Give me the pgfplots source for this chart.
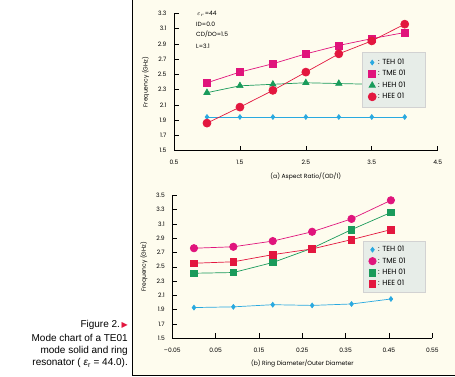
\documentclass[border=0pt]{standalone}
\usepackage{pgfplots}
\pgfplotsset{compat=1.18}
\usepackage{fontspec}
\setmainfont{Poppins}
\newfontfamily\capfont{Liberation Sans}
\newfontfamily\symfont{DejaVu Sans}
\definecolor{cream}{HTML}{FEFCEE}
\definecolor{cyanM}{HTML}{29A9E0}
\definecolor{magM}{HTML}{E0147C}
\definecolor{greenM}{HTML}{1A9B5B}
\definecolor{redM}{HTML}{E3173F}
\definecolor{legfill}{HTML}{E7EDE8}
\newcommand{\pad}{\hbox to 12pt{}}
\pgfplotsset{
  mystyle/.style={
    scale only axis, clip=false,
    axis x line*=bottom, axis y line*=left,
    tick align=inside, major tick length=5pt,
    tick style={black, line width=0.6pt},
    axis line style={black, line width=0.6pt},
    /pgf/number format/assume math mode=true,
    ticklabel style={font=\fontsize{6}{7}\selectfont},
    label style={font=\fontsize{6}{7}\selectfont},
    ylabel={Frequency (GHz)},
    yticklabel style={xshift=-4pt, /pgf/number format/.cd, fixed, fixed zerofill, precision=1},
    xticklabel style={yshift=-6pt},
    xlabel style={yshift=-1pt},
    ylabel style={yshift=2pt},
    legend cell align=left,
    legend style={fill=legfill, draw=gray!35, font=\fontsize{7.4}{8}\selectfont,
      anchor=north west, inner xsep=6pt, inner ysep=5pt, row sep=0.5pt},
    legend image code/.code={\draw[#1] plot[only marks] coordinates {(0.12cm,0cm)};},
  },
  lw/.style={line width=0.7pt},
}
\begin{document}
\begin{tikzpicture}
\useasboundingbox (0pt,0pt) rectangle (455pt,376pt);
\fill[white] (0pt,0pt) rectangle (455pt,376pt);
\fill[cream] (132pt,0pt) rectangle (455pt,376pt);
\draw[black, line width=0.8pt] (132pt,376pt) -- (132pt,0.5pt) -- (455pt,0.5pt);

% caption
\node[anchor=east, font=\capfont\fontsize{10}{12}\selectfont, inner sep=0pt] at (128pt,51pt) {Figure 2.\,{\symfont\color{redM}\fontsize{8}{9}\selectfont ▶}};
\node[anchor=east, font=\capfont\fontsize{10}{12}\selectfont, inner sep=0pt] at (128pt,38pt) {Mode chart of a TE01};
\node[anchor=east, font=\capfont\fontsize{10}{12}\selectfont, inner sep=0pt] at (128pt,25pt) {mode solid and ring};
\node[anchor=east, font=\capfont\fontsize{10}{12}\selectfont, inner sep=0pt] at (128pt,13pt) {resonator ( {\itshape ε}\textsubscript{r} = 44.0).};

% annotation
\node[anchor=west, font=\fontsize{6}{7}\selectfont, inner sep=0pt] at (197pt,362pt) {$\varepsilon_r$=44};
\node[anchor=west, font=\fontsize{6}{7}\selectfont, inner sep=0pt] at (196pt,351.5pt) {ID=0.0};
\node[anchor=west, font=\fontsize{6}{7}\selectfont, inner sep=0pt] at (196pt,341.5pt) {CD/DO=1.5};
\node[anchor=west, font=\fontsize{6}{7}\selectfont, inner sep=0pt] at (196pt,329.5pt) {L=3.1};

\begin{axis}[mystyle,
  at={(174pt,225.5pt)}, anchor=south west, width=263.7pt, height=137pt,
  xmin=0.5, xmax=4.5, ymin=1.5, ymax=3.3,
  xtick={0.5,1.5,2.5,3.5,4.5},
  xticklabels={0.5,1.5,2.5,3.5,4.5},
  ytick={1.5,1.7,1.9,2.1,2.3,2.5,2.7,2.9,3.1,3.3},
  xlabel={(a) Aspect Ratio/(OD/1)},
  legend style={at={(0.713,0.72)}},
]
\addplot[cyanM, lw, mark=diamond*, mark size=2.4pt, mark options={solid}] coordinates {
 (1,1.94) (1.5,1.94) (2,1.94) (2.5,1.94) (3,1.94) (3.5,1.94) (4,1.94)};
\addlegendentry{: TEH 01\pad}
\addplot[magM, lw, mark=square*, mark size=3.5pt] coordinates {
 (1,2.39) (1.5,2.53) (2,2.64) (2.5,2.77) (3,2.88) (3.5,2.97) (4,3.05)};
\addlegendentry{: TME 01\pad}
\addplot[greenM, lw, mark=triangle*, mark size=3.6pt] coordinates {
 (1,2.26) (1.5,2.35) (2,2.37) (2.5,2.39) (3,2.38) (3.5,2.37) (4,2.36)};
\addlegendentry{: HEH 01\pad}
\addplot[redM, lw, mark=*, mark size=4pt] coordinates {
 (1,1.86) (1.5,2.07) (2,2.29) (2.5,2.53) (3,2.77) (3.5,2.94) (4,3.16)};
\addlegendentry{: HEE 01\pad}
\end{axis}

\begin{axis}[mystyle,
  at={(172.3pt,37.7pt)}, anchor=south west, width=260pt, height=143pt,
  xmin=-0.05, xmax=0.55, ymin=1.5, ymax=3.5,
  xtick={-0.05,0.05,0.15,0.25,0.35,0.45,0.55},
  xticklabels={{--0.05},0.05,0.15,0.25,0.35,0.45,0.55},
  ytick={1.5,1.7,1.9,2.1,2.3,2.5,2.7,2.9,3.1,3.3,3.5},
  xlabel={(b) Ring Diameter/Outer Diameter},
  legend style={at={(0.732,0.680)}, inner ysep=3pt},
]
\addplot[cyanM, lw, mark=diamond*, mark size=2.4pt] coordinates {
 (0,1.93) (0.0909,1.94) (0.1818,1.97) (0.2727,1.96) (0.3636,1.98) (0.4545,2.05)};
\addlegendentry{: TEH 01\pad}
\addplot[magM, lw, mark=*, mark size=3.7pt] coordinates {
 (0,2.76) (0.0909,2.78) (0.1818,2.86) (0.2727,2.99) (0.3636,3.17) (0.4545,3.43)};
\addlegendentry{: TME 01\pad}
\addplot[greenM, lw, mark=square*, mark size=3.3pt] coordinates {
 (0,2.41) (0.0909,2.42) (0.1818,2.56) (0.2727,2.76) (0.3636,3.02) (0.4545,3.26)};
\addlegendentry{: HEH 01\pad}
\addplot[redM, lw, mark=square*, mark size=3.3pt] coordinates {
 (0,2.55) (0.0909,2.57) (0.1818,2.67) (0.2727,2.75) (0.3636,2.88) (0.4545,3.02)};
\addlegendentry{: HEE 01\pad}
\end{axis}
\end{tikzpicture}
\end{document}
